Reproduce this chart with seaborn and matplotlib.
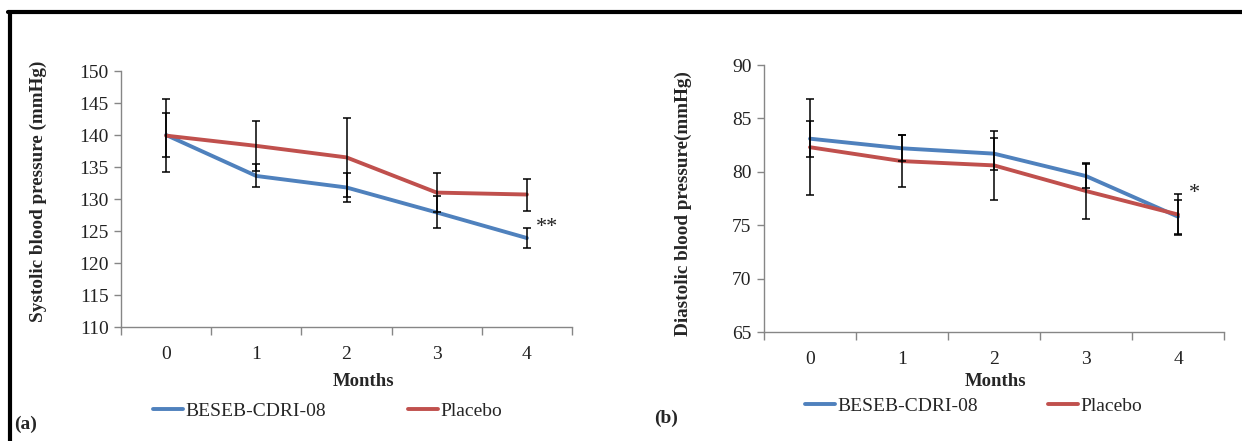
import numpy as np
import pandas as pd
import matplotlib
matplotlib.use("Agg")
import matplotlib.pyplot as plt
from matplotlib.lines import Line2D
import seaborn as sns

# ---------------- data ----------------
months = [0, 1, 2, 3, 4]
groups = ["BESEB-CDRI-08", "Placebo"]

sys_beseb = [140.0, 133.6, 131.8, 127.9, 123.9]
sys_beseb_sd = [3.4, 1.8, 2.3, 2.5, 1.5]
sys_placebo = [139.9, 138.3, 136.5, 131.0, 130.7]
sys_placebo_sd = [5.7, 3.9, 6.2, 3.1, 2.5]

dia_beseb = [83.1, 82.2, 81.7, 79.6, 75.8]
dia_beseb_sd = [1.7, 1.2, 1.5, 1.1, 1.6]
dia_placebo = [82.3, 81.0, 80.6, 78.2, 76.0]
dia_placebo_sd = [4.5, 2.4, 3.2, 2.6, 1.9]

sys_ylim = (110, 150)
dia_ylim = (65, 90)
sys_star = "**"
dia_star = "*"
colors = {"BESEB-CDRI-08": "#4F81BD", "Placebo": "#C0504D"}

# ---------------- style ----------------
sns.set_theme(style="white")
plt.rcParams["font.family"] = ["Liberation Serif", "DejaVu Serif"]

W, H = 1242, 441
fig = plt.figure(figsize=(W / 100, H / 100), dpi=100)
fig.patch.set_facecolor("white")


def fx(px):
    return px / W


def fy(py):
    return 1 - py / H


axL = fig.add_axes([fx(121), fy(327), fx(572) - fx(121), fy(71) - fy(327)])
axR = fig.add_axes([fx(764), fy(332), fx(1224) - fx(764), fy(65) - fy(332)])


def draw(ax, b, bsd, p, psd, ylim, star, star_xy, xpad):
    df = pd.DataFrame({
        "Month": months * 2,
        "BP": list(b) + list(p),
        "Group": [groups[0]] * 5 + [groups[1]] * 5,
    })
    sns.lineplot(data=df, x="Month", y="BP", hue="Group", palette=colors,
                 linewidth=2.8, ax=ax, legend=False, sort=False)
    for ln in ax.lines:
        ln.set_solid_joinstyle("round")
    ax.errorbar(months, b, yerr=bsd, fmt="none", ecolor="black",
                elinewidth=1.1, capsize=2.8, capthick=1.1, zorder=4)
    ax.errorbar(months, p, yerr=psd, fmt="none", ecolor="black",
                elinewidth=1.1, capsize=2.8, capthick=1.1, zorder=4)
    ax.set_xlim(-0.5, 4.5)
    ax.set_ylim(*ylim)
    ax.set_yticks(np.arange(ylim[0], ylim[1] + 1, 5))
    ax.set_xticks(months)
    ax.set_xticks(np.arange(-0.5, 4.6, 1.0), minor=True)
    ax.tick_params(axis="x", which="major", length=0, pad=xpad,
                   labelsize=14, labelcolor="#222222")
    ax.tick_params(axis="x", which="minor", length=6, width=1,
                   color="#868686", direction="out", bottom=True)
    ax.tick_params(axis="y", length=5, width=1, color="#868686",
                   direction="out", left=True, labelsize=14,
                   labelcolor="#222222", pad=4)
    ax.set_xlabel("")
    ax.set_ylabel("")
    for s in ["top", "right"]:
        ax.spines[s].set_visible(False)
    for s in ["left", "bottom"]:
        ax.spines[s].set_color("#868686")
        ax.spines[s].set_linewidth(1.0)
    ax.grid(False)
    ax.text(star_xy[0], star_xy[1], star, fontsize=16, ha="left",
            va="center", color="#222222")


draw(axL, sys_beseb, sys_beseb_sd, sys_placebo, sys_placebo_sd,
     sys_ylim, sys_star, (4.1, 125.6), 14)
draw(axR, dia_beseb, dia_beseb_sd, dia_placebo, dia_placebo_sd,
     dia_ylim, dia_star, (4.12, 78.0), 14)

# axis titles
fig.text(fx(38), fy(191), "Systolic blood pressure (mmHg)", rotation=90,
         ha="center", va="center", fontsize=13.8, fontweight="bold")
fig.text(fx(683), fy(204), "Diastolic blood pressure(mmHg)", rotation=90,
         ha="center", va="center", fontsize=13.8, fontweight="bold")
fig.text(fx(364), fy(381), "Months", ha="center", va="center",
         fontsize=13.5, fontweight="bold")
fig.text(fx(996), fy(382), "Months", ha="center", va="center",
         fontsize=13.5, fontweight="bold")

# legends
def legend(ax, x, y, colsp):
    handles = [Line2D([], [], color=colors[g], lw=2.8) for g in groups]
    leg = ax.legend(handles, groups, loc="center left",
                    bbox_to_anchor=(fx(x), fy(y)),
                    bbox_transform=fig.transFigure, ncol=2, frameon=False,
                    fontsize=14, handlelength=1.55, handletextpad=0.12,
                    columnspacing=colsp, borderpad=0, borderaxespad=0)
    return leg


legend(axL, 153, 411, 4.2)
legend(axR, 805, 406, 3.6)

fig.text(fx(14), fy(424), "(a)", ha="left", va="center", fontsize=14,
         fontweight="bold")
fig.text(fx(654), fy(418), "(b)", ha="left", va="center", fontsize=14,
         fontweight="bold")

# outer frame (left and top edges)
fig.add_artist(Line2D([fx(9.5), fx(9.5)], [0, fy(12)], color="black",
                      lw=3, transform=fig.transFigure))
fig.add_artist(Line2D([fx(8), 1], [fy(12), fy(12)], color="black",
                      lw=3, transform=fig.transFigure))

fig.savefig("out.png", dpi=100)
